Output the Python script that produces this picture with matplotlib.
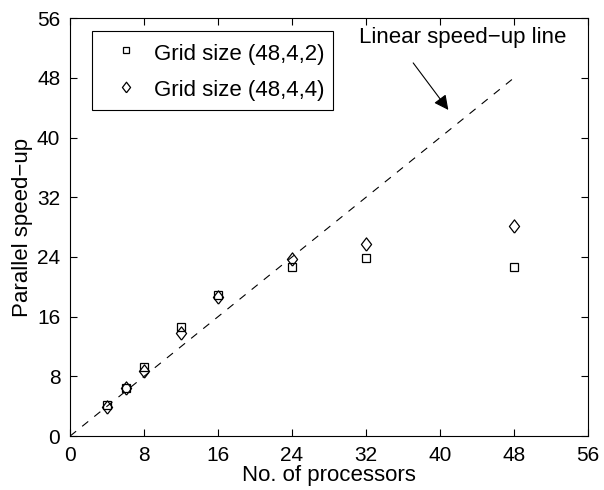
import matplotlib.pyplot as plt

plt.rcParams['font.family'] = ['Liberation Sans', 'DejaVu Sans']

# processor counts and measured speed-ups
procs = [4, 6, 8, 12, 16, 24, 32, 48]
speedup_442 = [4.1, 6.5, 9.2, 14.6, 18.9, 22.7, 23.8, 22.6]
speedup_444 = [3.9, 6.4, 8.7, 13.8, 18.6, 23.7, 25.7, 28.2]
linear_x = [0, 48]
ticks = [0, 8, 16, 24, 32, 40, 48, 56]

# wider diamond than matplotlib's 'd'
diamond = [(0, -1), (0.77, 0), (0, 1), (-0.77, 0), (0, -1)]

fig = plt.figure(figsize=(6.04, 4.90), dpi=100)
ax = fig.add_axes([0.116, 0.110, 0.8575, 0.853])

ax.plot(procs, speedup_442, 's', mfc='none', mec='black', ms=6, mew=0.9,
        label='Grid size (48,4,2)')
ax.plot(procs, speedup_444, marker=diamond, ls='none', mfc='none', mec='black',
        ms=9.5, mew=0.9, label='Grid size (48,4,4)')
ax.plot(linear_x, linear_x, '--', color='black', lw=0.8, dashes=(7, 7))

ax.text(42.4, 53.4, 'Linear speed\u2212up line', ha='center', va='center',
        fontsize=16)
ax.annotate('', xy=(40.9, 43.7), xytext=(37.1, 50.0),
            arrowprops=dict(arrowstyle='-|>', color='black', lw=0.8,
                            shrinkA=0, shrinkB=0, mutation_scale=22))

ax.set_xlim(0, 56)
ax.set_ylim(0, 56)
ax.set_xticks(ticks)
ax.set_yticks(ticks)
ax.tick_params(direction='in', labelsize=15, length=5, top=True, right=True,
               pad=7)
ax.set_xlabel('No. of processors', fontsize=16, labelpad=0)
ax.set_ylabel('Parallel speed\u2212up', fontsize=16, labelpad=3)

leg = ax.legend(loc='upper left', bbox_to_anchor=(0.042, 0.969), fontsize=16,
                fancybox=False, edgecolor='black', framealpha=1,
                handlelength=2.3, handleheight=1.3, handletextpad=0.1,
                borderpad=0.4, labelspacing=0.55,
                markerscale=0.8, borderaxespad=0)
leg.get_frame().set_linewidth(0.8)

fig.savefig('out.png', dpi=100)
